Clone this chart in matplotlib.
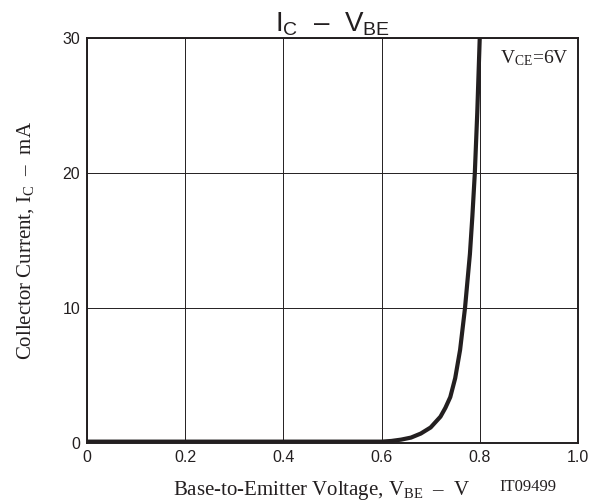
import matplotlib
matplotlib.use("Agg")
import matplotlib.pyplot as plt

# I_C vs V_BE at V_CE = 6 V
vbe = [0.0, 0.1, 0.2, 0.3, 0.4, 0.5, 0.6, 0.62, 0.64, 0.66, 0.68, 0.70,
       0.72, 0.73, 0.74, 0.75, 0.76, 0.77, 0.78, 0.785, 0.79, 0.795, 0.80]
ic = [0.1, 0.1, 0.1, 0.1, 0.1, 0.1, 0.1, 0.15, 0.25, 0.4, 0.7, 1.15,
      1.95, 2.6, 3.4, 4.8, 6.9, 10.0, 14.0, 16.8, 20.0, 24.5, 30.0]

xticks = [0, 0.2, 0.4, 0.6, 0.8, 1.0]
xticklabels = ["0", "0.2", "0.4", "0.6", "0.8", "1.0"]
yticks = [0, 10, 20, 30]

ink = "#231f20"
sans = ["Liberation Sans", "DejaVu Sans"]
serif = ["Liberation Serif", "DejaVu Serif"]
plt.rcParams["mathtext.fontset"] = "custom"
plt.rcParams["mathtext.rm"] = "Liberation Serif"

fig = plt.figure(figsize=(6.02, 5.01), dpi=100)
ax = fig.add_axes([0.1445, 0.1158, 0.8155, 0.8082])

ax.plot(vbe, ic, color=ink, lw=3, solid_capstyle="butt")

ax.set_xlim(0, 1.0)
ax.set_ylim(0, 30)
ax.set_xticks(xticks)
ax.set_xticklabels(xticklabels, family=sans, fontsize=11.5, color=ink)
ax.set_yticks(yticks)
ax.set_yticklabels([str(v) for v in yticks], family=sans, fontsize=11.5, color=ink)
ax.tick_params(length=0, pad=5)
ax.grid(True, color=ink, lw=0.7)
for s in ax.spines.values():
    s.set_linewidth(1.4)
    s.set_color(ink)

ax.set_title(r"$\mathregular{I_C}$  –  $\mathregular{V_{BE}}$", family=sans,
             fontsize=20, pad=0, color=ink)
ax.set_ylabel(r"Collector Current, $\mathregular{I_C}$  –  mA", family=serif,
              fontsize=15, labelpad=19, color=ink)
ax.set_xlabel(r"Base-to-Emitter Voltage, $\mathregular{V_{BE}}$  –  V", family=serif,
              fontsize=15, color=ink)
ax.xaxis.set_label_coords(0.478, -0.09)
ax.text(0.982, 0.975, r"$\mathregular{V_{CE}}$=6V", transform=ax.transAxes,
        family=serif, fontsize=14, ha="right", va="top", color=ink)
fig.text(0.877, 0.028, "IT09499", family=serif, fontsize=12, ha="center",
         va="center", color=ink)

fig.savefig("out.png", dpi=100)
